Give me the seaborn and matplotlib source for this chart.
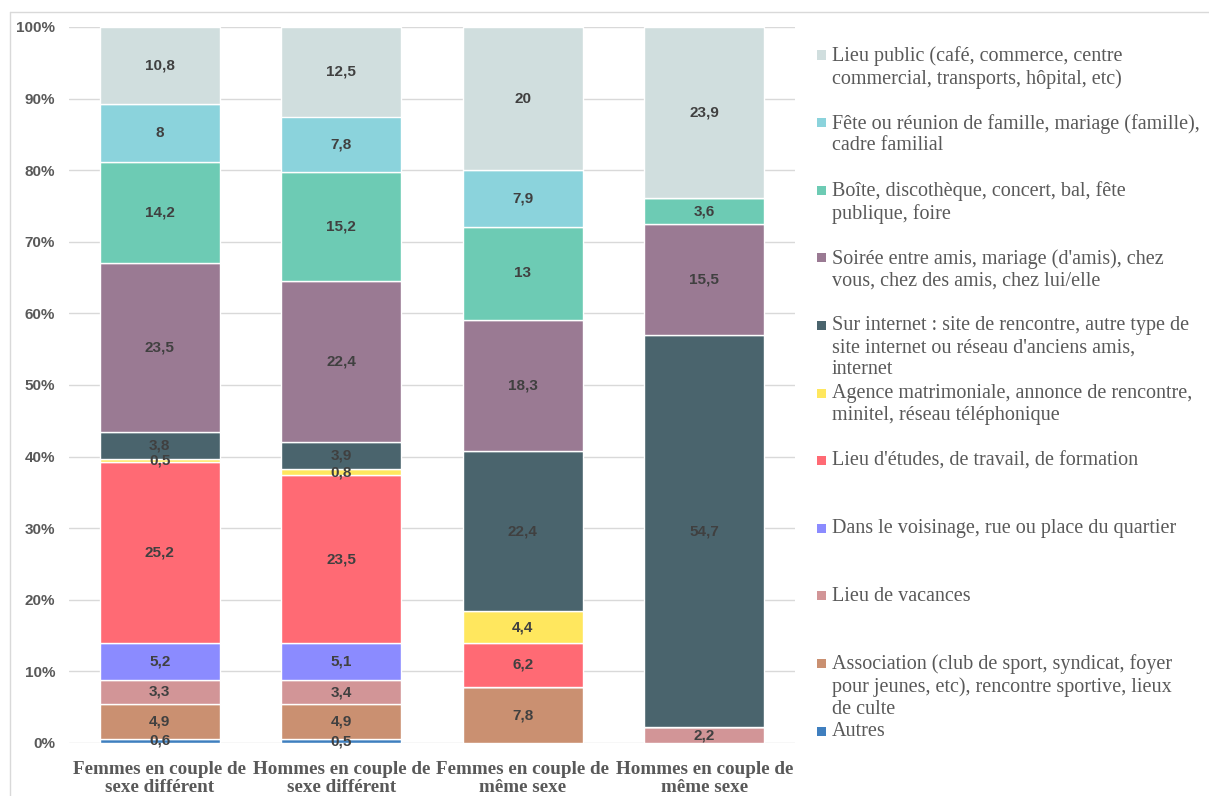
import numpy as np
import pandas as pd
import seaborn as sns
import matplotlib.pyplot as plt
from matplotlib.lines import Line2D
from matplotlib.patches import Rectangle

# data
groups = ["Femmes en couple de\nsexe différent", "Hommes en couple de\nsexe différent",
          "Femmes en couple de\nmême sexe", "Hommes en couple de\nmême sexe"]

# series from bottom to top of the stack
categories = [
    "Autres",
    "Association (club de sport, syndicat, foyer\npour jeunes, etc), rencontre sportive, lieux\nde culte",
    "Lieu de vacances",
    "Dans le voisinage, rue ou place du quartier",
    "Lieu d'études, de travail, de formation",
    "Agence matrimoniale, annonce de rencontre,\nminitel, réseau téléphonique",
    "Sur internet : site de rencontre, autre type de\nsite internet ou réseau d'anciens amis,\ninternet",
    "Soirée entre amis, mariage (d'amis), chez\nvous, chez des amis, chez lui/elle",
    "Boîte, discothèque, concert, bal, fête\npublique, foire",
    "Fête ou réunion de famille, mariage (famille),\ncadre familial",
    "Lieu public (café, commerce, centre\ncommercial, transports, hôpital, etc)",
]

autres = [0.6, 0.5, 0, 0]
association = [4.9, 4.9, 7.8, 0]
vacances = [3.3, 3.4, 0, 2.2]
voisinage = [5.2, 5.1, 0, 0]
etudes = [25.2, 23.5, 6.2, 0]
agence = [0.5, 0.8, 4.4, 0]
internet = [3.8, 3.9, 22.4, 54.7]
soiree = [23.5, 22.4, 18.3, 15.5]
boite = [14.2, 15.2, 13, 3.6]
famille = [8, 7.8, 7.9, 0]
lieu_public = [10.8, 12.5, 20, 23.9]

series = [autres, association, vacances, voisinage, etudes, agence,
          internet, soiree, boite, famille, lieu_public]

colors = ["#3F7FBF", "#CA9071", "#D29597", "#8B8BFF", "#FF6A74", "#FFE75E",
          "#4A646D", "#9A7A93", "#6DCBB4", "#8BD3DC", "#D0DEDE"]

df = pd.DataFrame(dict(zip(categories, series)), index=groups)
# 100% stacked
pct = df.div(df.sum(axis=1), axis=0) * 100

sns.set_theme(style="white")

fig = plt.figure(figsize=(12.09, 7.96), dpi=100)
ax = fig.add_axes([69 / 1209, 1 - 743 / 796, (795 - 69) / 1209, (743 - 27) / 796])

bottom = np.zeros(len(groups))
for cat, col in zip(categories, colors):
    vals = pct[cat].values
    sns.barplot(x=list(range(len(groups))), y=vals, bottom=bottom, color=col,
                width=0.66, errorbar=None, edgecolor="white", linewidth=1,
                saturation=1, ax=ax, zorder=3)
    for i, (v, raw) in enumerate(zip(vals, df[cat].values)):
        if raw > 0:
            ax.text(i, bottom[i] + v / 2, f"{raw:g}".replace(".", ","),
                    ha="center", va="center", fontsize=11, fontweight="bold",
                    color="#404040", family="Liberation Sans", zorder=5)
    bottom = bottom + vals

ax.set_xlim(-0.5, 3.5)
ax.set_ylim(0, 100)
ax.set_yticks(np.arange(0, 101, 10))
ax.set_yticklabels([f"{t}%" for t in range(0, 101, 10)], fontsize=11,
                   fontweight="bold", color="#595959", family="Liberation Sans")
ax.set_xticks(range(len(groups)))
ax.set_xticklabels(groups, fontsize=13.8, fontweight="bold", color="#595959",
                   family="Liberation Serif", linespacing=1.05)
ax.tick_params(axis="y", length=0, pad=10)
ax.tick_params(axis="x", length=0, pad=13)
ax.yaxis.grid(True, color="#D9D9D9", linewidth=1)
ax.set_axisbelow(True)
for s in ax.spines.values():
    s.set_visible(False)
ax.set_xlabel("")
ax.set_ylabel("")

# chart border (top and left)
fig.add_artist(Line2D([10 / 1209, 1], [1 - 12 / 796, 1 - 12 / 796], color="#D9D9D9", lw=1))
fig.add_artist(Line2D([10 / 1209, 10 / 1209], [0, 1 - 12 / 796], color="#D9D9D9", lw=1))

# legend, top entry first, evenly spaced slots
for k, (cat, col) in enumerate(zip(categories[::-1], colors[::-1])):
    yc = 55 + k * 67.6
    fig.add_artist(Rectangle((817 / 1209, 1 - (yc + 4.5) / 796), 9 / 1209, 9 / 796,
                             facecolor=col, edgecolor="none"))
    fig.text(832 / 1209, 1 - (yc - 9) / 796, cat, ha="left", va="top",
             fontsize=14.5, color="#595959", family="Liberation Serif",
             linespacing=1.2)

fig.savefig("out.png", dpi=100)
